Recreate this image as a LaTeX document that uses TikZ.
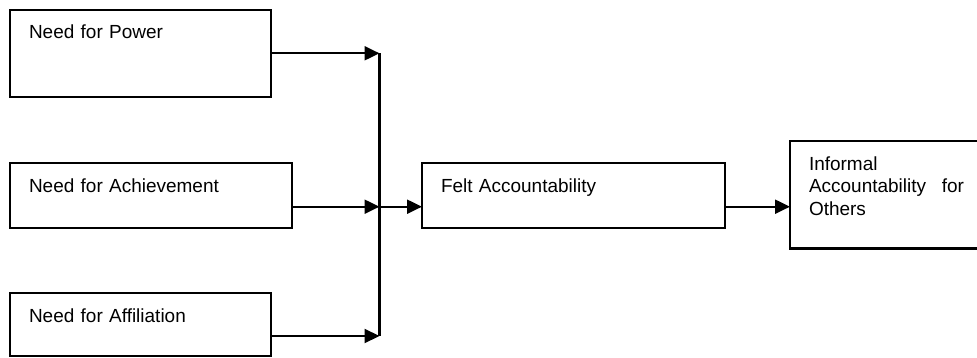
\documentclass[tikz,border=0pt]{standalone}
\usepackage{fontspec}
\setmainfont{Liberation Sans}
\usepackage{tikz}
\usetikzlibrary{arrows.meta,positioning}
\tikzset{
  needbox/.style 2 args={draw, line width=1.2pt, anchor=north west,
                  align=left, text width=#1, text height=0.38cm,
                  text depth=#2, inner xsep=0.38cm, inner ysep=0.2cm,
                  outer sep=0pt, font=\fontsize{10.8}{13}\selectfont},
  arr/.style    ={-{Triangle[length=0.3cm, width=0.28cm]}, line width=1.2pt},
  rail/.style   ={line width=1.2pt},
}
\begin{document}
\begin{tikzpicture}
  \useasboundingbox (0,0) rectangle (19.54,-7.16);

  \node[needbox={4.46cm}{0.96cm}] (power) at (0.2,-0.2) {Need for Power};
  \node[needbox={4.88cm}{0.52cm}, below=1.32cm of power.south west,
        anchor=north west] (achieve) {Need for Achievement};
  \node[needbox={4.46cm}{0.48cm}, below=1.30cm of achieve.south west,
        anchor=north west] (affil) {Need for Affiliation};

  \node[needbox={5.3cm}{0.52cm}, right=2.6cm of achieve.north east,
        anchor=north west] (felt) {Felt Accountability};
  \node[needbox={3.1cm}{1.37cm}, right=1.3cm of felt.north east,
        anchor=north west, yshift=0.44cm] (inform)
        {Informal\\Accountability\hfill for\\Others};

  % collecting line
  \coordinate (top)  at (7.59,-1.066);
  \coordinate (join) at (7.59,-4.134);
  \coordinate (bot)  at (7.59,-6.72);

  \draw[rail] (top) -- (bot);
  \draw[arr] (power.east |- top) -- (top);
  \draw[arr] (achieve.east |- join) -- (join);
  \draw[arr] (affil.east |- bot) -- (bot);
  \draw[arr] (join) -- (felt.west |- join);
  \draw[arr] (felt.east |- join) -- (inform.west |- join);
\end{tikzpicture}
\end{document}
